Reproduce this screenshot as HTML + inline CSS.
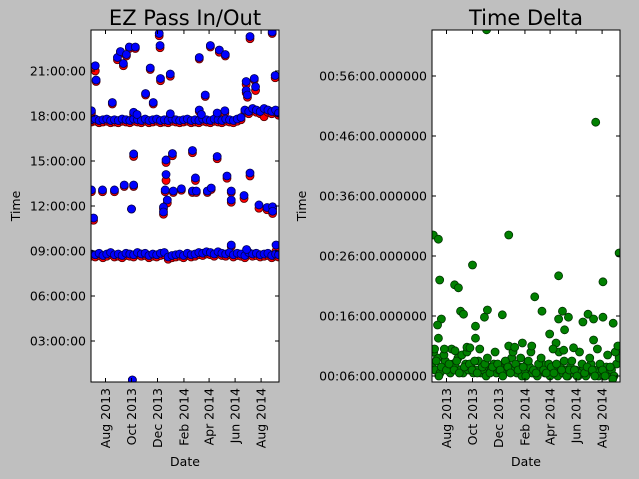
<!DOCTYPE html>
<html><head><meta charset="utf-8"><style>
html,body{margin:0;padding:0;background:#bfbfbf;}
svg{display:block;font-family:"DejaVu Sans","Liberation Sans",sans-serif;}
</style></head><body>
<svg id="chart" width="639" height="479" viewBox="0 0 639 479" xmlns="http://www.w3.org/2000/svg">
<rect x="0" y="0" width="639" height="479" fill="#bfbfbf"/>
</svg>
<script>
// ---- data ----
const tickDays = [0, 61, 122, 184, 243, 304, 365];
const tickMonths = ["Aug 2013","Oct 2013","Dec 2013","Feb 2014","Apr 2014","Jun 2014","Aug 2014"];
const leftTickHours = [3,6,9,12,15,18,21];
const leftTickLabels = ["03:00:00","06:00:00","09:00:00","12:00:00","15:00:00","18:00:00","21:00:00"];
const rightTickMins = [6,16,26,36,46,56];
const rightTickLabels = ["00:06:00.000000","00:16:00.000000","00:26:00.000000","00:36:00.000000","00:46:00.000000","00:56:00.000000"];

const bandDays = [-33,-24,-15,-6,3,12,21,30,39,48,57,66,75,84,93,102,111,120,129,138,147,156,165,174,183,192,201,210,219,228,237,246,255,264,273,282,291,300,309,318,327,336,345,354,363,372,381,390,399,406];
const amOut = [8.8,8.75,8.85,8.7,8.8,8.9,8.75,8.8,8.7,8.85,8.8,8.75,8.9,8.8,8.85,8.7,8.8,8.75,8.85,8.9,8.6,8.7,8.75,8.8,8.7,8.85,8.75,8.8,8.9,8.85,8.95,8.9,8.8,8.95,8.85,8.8,8.9,8.75,8.85,8.8,8.7,8.9,8.8,8.85,8.75,8.8,8.85,8.7,8.8,8.75];
const amIn = [8.65,8.6,8.7,8.55,8.65,8.75,8.6,8.65,8.55,8.7,8.65,8.6,8.75,8.65,8.7,8.55,8.65,8.6,8.7,8.75,8.45,8.55,8.6,8.65,8.55,8.7,8.6,8.65,8.75,8.7,8.8,8.75,8.65,8.8,8.7,8.65,8.75,8.6,8.7,8.65,8.55,8.75,8.65,8.7,8.6,8.65,8.7,8.55,8.65,8.6];
const pmOut = [17.75,17.8,17.7,17.75,17.8,17.7,17.75,17.7,17.8,17.75,17.7,17.8,17.75,17.7,17.8,17.7,17.75,17.8,17.7,17.75,17.7,17.8,17.75,17.7,17.75,17.8,17.7,17.75,17.7,17.8,17.75,17.7,17.8,17.75,17.7,17.8,17.75,17.7,17.8,17.9,18.4,18.3,18.5,18.4,18.3,18.5,18.4,18.3,18.4,18.2];
const pmIn = [17.6,17.65,17.55,17.6,17.65,17.55,17.6,17.55,17.65,17.6,17.55,17.65,17.6,17.55,17.65,17.55,17.6,17.65,17.55,17.6,17.55,17.65,17.6,17.55,17.6,17.65,17.55,17.6,17.55,17.65,17.6,17.55,17.65,17.6,17.55,17.65,17.6,17.55,17.65,17.75,18.25,18.15,18.35,18.25,18.15,17.95,18.25,18.15,18.25,18.05];

const oddDays = [-24,-22,28,35,42,49,56,70,126,128,105,152,129,220,246,267,281,339,391,330,349,398,94,16,234,112,330,333,352,-33,66,74,152,220,262,280,225,66,142,157,204,262,339,285,211,142,-33,-7,21,44,66,140,159,178,204,213,239,248,295,295,325,360,145,61,136,136,-28,379,392,392,63,295,331,400];
const oddOut = [21.35,20.4,21.9,22.3,21.5,22.1,22.6,22.6,23.5,22.7,21.2,20.8,20.5,21.9,22.7,22.4,22.1,23.3,23.6,20.3,20.5,20.7,19.5,18.9,19.4,18.9,19.7,19.4,19.95,18.35,18.25,18.1,18.15,18.4,18.2,18.35,18.1,15.47,15.07,15.5,15.7,15.3,14.2,14.0,13.87,14.1,13.07,13.07,13.07,13.4,13.4,13.07,13.0,13.15,13.0,13.0,13.0,13.2,13.0,12.4,12.7,12.07,12.4,11.8,11.93,11.6,11.2,11.9,11.95,11.65,0.4,9.4,9.1,9.4];
const oddIn = [21.0,20.3,21.75,22.2,21.35,22.0,22.5,22.5,23.35,22.55,21.1,20.65,20.35,21.8,22.6,22.25,22.0,23.15,23.5,20.1,20.4,20.55,19.4,18.8,19.3,18.8,19.55,19.25,19.7,18.2,18.1,18.0,18.0,18.3,18.05,18.2,17.95,15.3,14.9,15.35,15.55,15.15,14.0,13.85,13.7,13.7,12.95,12.95,12.95,13.3,13.3,12.95,12.9,13.05,12.9,12.9,12.9,13.1,12.9,12.25,12.5,11.85,12.2,11.8,11.8,11.45,11.05,11.75,11.8,11.5,0.4,9.3,9.0,9.0];

const dDays1 = [-33,-27,-21,-15,-9,-3,3,9,15,21,27,33,39,45,51,57,63,69,75,81,87,93,99,105,111,117,123,129,135,141,147,153,159,165,171,177,183,189,195,201,207,213,219,225,231,237,243,249,255,261,267,273,279,285,291,297,303,309,315,321,327,333,339,345,351,357,363,369,375,381,387,393,399,405];
const dMin1 = [8,7,9,6.5,7.5,8.5,7,6.5,8,7.5,9,7,6.5,8,7,7.5,6.5,7,8.5,6.5,7,6,7.5,7,8,6.5,7,7.5,6.5,8,7,9,7,6.5,7.5,6,7,8,7.5,6.5,7,6,7.5,8,6.5,7,6,7.5,7,6,7.5,6.5,7,6,7.5,6.5,7,6,6.5,7.5,6,7,8,6.5,7,6,7.5,6,7.5,6.5,7,6,8,9];
const dDays2 = [-30,-24,-18,-12,-6,0,6,12,18,24,30,36,42,48,54,60,66,72,78,84,90,96,102,108,114,120,126,132,138,144,150,156,162,168,174,180,186,192,198,204,210,216,222,228,234,240,246,252,258,264,270,276,282,288,294,300,306,312,318,324,330,336,342,348,354,360,366,372,378,384,390,396,402];
const dMin2 = [10,8.5,6,7.5,9.5,7,8,10.5,7,8.5,6.5,9.5,7.5,10,8,7,8.5,6.5,10.5,7.5,8,9,6.5,7.5,10,8,7,6,8.5,7.5,6.5,10,8,7,9,7.5,6,8.5,10,7,6.5,8,9,7,6.5,8,7.5,6.5,8,10,7,8.5,6,7,8.5,7,6,10,8,6.5,7.5,9,7,6,10.5,8,7,6,9.5,7.5,5.5,10,11];
const dDays3 = [-31,-19,-16,-12,-21,-19,-28,19,28,33,40,61,68,68,89,96,94,146,131,146,178,200,207,224,242,257,263,263,272,277,286,275,298,320,332,345,345,350,367,367,391,405,-5,20,48,55,160,250];
const dMin3 = [29.5,28.8,22,15.5,14.5,12.3,10.5,21.2,20.7,16.8,16.3,24.5,14.3,12.3,15.8,17,63.7,29.5,16.2,11,11.5,11,19.2,16.8,13,11.5,22.7,15.5,16.8,13.7,15.8,10.3,10.7,15,16.3,15.5,12,48.3,21.7,15.8,14.8,26.5,10.5,10.2,10.8,10.7,10.8,10.5];

// ---- drawing ----
const NS = "http://www.w3.org/2000/svg";
const svg = document.getElementById("chart");
function mk(tag, attrs, parent){const e=document.createElementNS(NS,tag);for(const k in attrs)e.setAttribute(k,attrs[k]);(parent||svg).appendChild(e);return e;}
const D0=-34, D1=407;
function xL(d){return 91+(d-D0)/(D1-D0)*188;}
function xR(d){return 432+(d-D0)/(D1-D0)*188;}
function yL(h){return 71+(21-h)*15;}
function yR(m){return 376-(m-6)*6;}

function panel(x0, name){
  const bg = mk("rect",{x:x0,y:30,width:188,height:352,fill:"#ffffff"});
  
  
}
panel(91,'in-out');
panel(432,'delta');

function dot(cx,cy,fill,stroke,name,clipId){
  const c = mk("circle",{cx:cx,cy:cy,r:4,fill:fill,stroke:stroke,"stroke-width":0.8,"clip-path":"url(#"+clipId+")"});
  
  
}
const defs = mk("defs",{});
const cp1 = mk("clipPath",{id:"cpL"},defs); mk("rect",{x:91,y:30,width:188,height:352},cp1);
const cp2 = mk("clipPath",{id:"cpR"},defs); mk("rect",{x:432,y:30,width:188,height:352},cp2);

// left: red (in) first, then blue (out)
for(let i=0;i<bandDays.length;i++){dot(xL(bandDays[i]),yL(amIn[i]),"#ff0000","#550000",'in-point','cpL');dot(xL(bandDays[i]),yL(pmIn[i]),"#ff0000","#550000",'in-point','cpL');}
for(let i=0;i<oddDays.length;i++){dot(xL(oddDays[i]),yL(oddIn[i]),"#ff0000","#550000",'in-point','cpL');}
for(let i=0;i<bandDays.length;i++){dot(xL(bandDays[i]),yL(amOut[i]),"#0000ff","#000055",'out-point','cpL');dot(xL(bandDays[i]),yL(pmOut[i]),"#0000ff","#000055",'out-point','cpL');}
for(let i=0;i<oddDays.length;i++){dot(xL(oddDays[i]),yL(oddOut[i]),"#0000ff","#000055",'out-point','cpL');}
// right
for(let i=0;i<dDays1.length && i<dMin1.length;i++)dot(xR(dDays1[i]),yR(dMin1[i]),"#008000","#003300",'delta-point','cpR');
for(let i=0;i<dDays2.length && i<dMin2.length;i++)dot(xR(dDays2[i]),yR(dMin2[i]),"#008000","#003300",'delta-point','cpR');
for(let i=0;i<dDays3.length;i++)dot(xR(dDays3[i]),yR(dMin3[i]),"#008000","#003300",'delta-point','cpR');

function axes(x0, xf, ticksY, yf, yLabels, name, labelRight){
  const fr = mk("rect",{x:x0,y:30,width:188,height:352,fill:"none",stroke:"#000",'stroke-width':1});
  
  
  for(let i=0;i<tickDays.length;i++){
    const x=xf(tickDays[i]);
    mk("line",{x1:x,y1:382,x2:x,y2:378,stroke:"#000"});
    mk("line",{x1:x,y1:30,x2:x,y2:34,stroke:"#000"});
    const t=mk("text",{x:0,y:0,"font-size":12.5,"text-anchor":"end",transform:"translate("+(x+4.5)+",388) rotate(-90)"});
    t.textContent=tickMonths[i];
    
    
  }
  for(let i=0;i<ticksY.length;i++){
    const y=yf(ticksY[i]);
    mk("line",{x1:x0,y1:y,x2:x0+4,y2:y,stroke:"#000"});
    mk("line",{x1:x0+188,y1:y,x2:x0+184,y2:y,stroke:"#000"});
    const t=mk("text",{x:x0-5,y:y+4.5,"font-size":12.5,"text-anchor":"end"});
    t.textContent=yLabels[i];
    
    
  }
}
axes(91,xL,leftTickHours,yL,leftTickLabels,'in-out');
axes(432,xR,rightTickMins,yR,rightTickLabels,'delta');

function label(x,y,txt,size,rot,name){
  const t=mk("text",{x:x,y:y,"font-size":size,"text-anchor":"middle"});
  if(rot)t.setAttribute("transform","rotate(-90 "+x+" "+y+")");
  t.textContent=txt;
  
  
}
label(185,25,"EZ Pass In/Out",21,false,'left-title');
label(526,25,"Time Delta",21,false,'right-title');
label(185,466,"Date",12.5,false,'left-x-axis-title');
label(526,466,"Date",12.5,false,'right-x-axis-title');
label(20,206,"Time",12.5,true,'left-y-axis-title');
label(306,206,"Time",12.5,true,'right-y-axis-title');
</script>
</body></html>
